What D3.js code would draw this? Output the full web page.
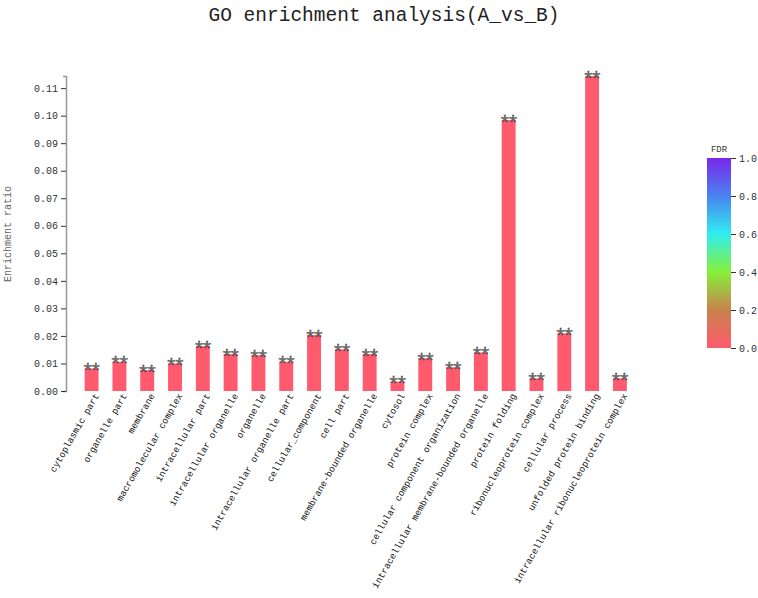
<!DOCTYPE html>
<html>
<head>
<meta charset="utf-8">
<script src="https://cdn.jsdelivr.net/npm/d3@7"></script>
<style>
  body { margin: 0; background: #fff; }
  text { font-family: "Liberation Mono", "DejaVu Sans Mono", monospace; }
</style>
</head>
<body>
<div id="chart"></div>
<script>
const categories = [
  'cytoplasmic part', 'organelle part', 'membrane', 'macromolecular complex',
  'intracellular part', 'intracellular organelle', 'organelle',
  'intracellular organelle part', 'cellular_component', 'cell part',
  'membrane-bounded organelle', 'cytosol', 'protein complex',
  'cellular component organization', 'intracellular membrane-bounded organelle',
  'protein folding', 'ribonucleoprotein complex', 'cellular process',
  'unfolded protein binding', 'intracellular ribonucleoprotein complex'
];
const ratios = [
  0.0082, 0.0106, 0.0076, 0.0100, 0.0163, 0.0134, 0.0130, 0.0106, 0.0203, 0.0151,
  0.0134, 0.0034, 0.0119, 0.0086, 0.0140, 0.0984, 0.0046, 0.0209, 0.1144, 0.0046
];
const fdr = [
  0, 0, 0, 0, 0, 0, 0, 0, 0, 0,
  0, 0, 0, 0, 0, 0, 0, 0, 0, 0
];
const stars = categories.map(() => '**');
const yTicks = [0, 0.01, 0.02, 0.03, 0.04, 0.05, 0.06, 0.07, 0.08, 0.09, 0.10, 0.11];
const legendStops = [0, 0.2, 0.4, 0.6, 0.8, 1.0];
const legendColors = ['#ff5a6e', '#c8824c', '#86f03a', '#30eef0', '#4a82f0', '#7a28ea'];

const width = 758, height = 598;
const plot = { left: 66, right: 641, top: 76, bottom: 391 };

const svg = d3.select('#chart').append('svg')
  .attr('width', width)
  .attr('height', height);

// title
svg.append('text')
  .attr('x', 384)
  .attr('y', 21)
  .attr('text-anchor', 'middle')
  .attr('font-size', 19.5)
  .attr('fill', '#222')
  .text('GO enrichment analysis(A_vs_B)');

const x = d3.scaleBand()
  .domain(categories)
  .range([plot.left + 4.75, plot.right - 0.25])
  .padding(0.5);

const y = d3.scaleLinear()
  .domain([0, d3.max(ratios)])
  .range([plot.bottom, plot.top]);

const color = d3.scaleLinear()
  .domain(legendStops)
  .range(legendColors);

// y axis
const yAxis = svg.append('g')
  .attr('transform', 'translate(' + plot.left + ',0)')
  .call(d3.axisLeft(y).tickValues(yTicks).tickFormat(d3.format('.2f')).tickSize(5).tickSizeOuter(3));
yAxis.select('.domain').attr('stroke', '#999').attr('stroke-width', 1.5);
yAxis.selectAll('.tick line').attr('stroke', '#333');
yAxis.selectAll('.tick text')
  .attr('font-size', 10)
  .attr('fill', '#333')
  .attr('font-family', '"Liberation Mono", monospace');

svg.append('text')
  .attr('transform', 'translate(11,234) rotate(-90)')
  .attr('text-anchor', 'middle')
  .attr('font-size', 10)
  .attr('fill', '#666')
  .text('Enrichment ratio');

// bars
svg.append('g').selectAll('rect')
  .data(categories)
  .join('rect')
  .attr('x', d => x(d))
  .attr('width', x.bandwidth())
  .attr('y', (d, i) => y(ratios[i]))
  .attr('height', (d, i) => y(0) - y(ratios[i]))
  .attr('fill', (d, i) => color(fdr[i]));

// significance stars (negative letter-spacing pushes ink right, so pull back 2px)
svg.append('g').selectAll('text')
  .data(categories)
  .join('text')
  .attr('x', d => x(d) + x.bandwidth() / 2 - 2)
  .attr('y', (d, i) => y(ratios[i]) + 9.5)
  .attr('text-anchor', 'middle')
  .attr('font-size', 21)
  .attr('letter-spacing', -4.5)
  .attr('fill', '#777')
  .attr('stroke', '#222')
  .attr('stroke-width', 0.3)
  .text((d, i) => stars[i]);

// category labels
svg.append('g').selectAll('text')
  .data(categories)
  .join('text')
  .attr('transform', d => 'translate(' + (x(d) + x.bandwidth() / 2 + 5) + ',' + (plot.bottom + 3) + ') rotate(-60)')
  .attr('text-anchor', 'end')
  .attr('dy', '0.35em')
  .attr('font-size', 9.3)
  .attr('fill', '#111')
  .text(d => d);

// colour legend
const legend = { x: 707, y: 158, w: 24, h: 190 };
const defs = svg.append('defs');
const grad = defs.append('linearGradient')
  .attr('id', 'fdrgrad')
  .attr('x1', 0).attr('y1', 1).attr('x2', 0).attr('y2', 0);
legendStops.forEach((s, i) => {
  grad.append('stop')
    .attr('offset', (s * 100) + '%')
    .attr('stop-color', legendColors[i]);
});

svg.append('rect')
  .attr('x', legend.x)
  .attr('y', legend.y)
  .attr('width', legend.w)
  .attr('height', legend.h)
  .attr('fill', 'url(#fdrgrad)');

const ly = d3.scaleLinear()
  .domain([0, 1])
  .range([legend.y + legend.h, legend.y]);

const lAxis = svg.append('g')
  .attr('transform', 'translate(' + (legend.x + legend.w) + ',0)')
  .call(d3.axisRight(ly).tickValues(legendStops).tickFormat(d3.format('.1f')).tickSize(5).tickSizeOuter(0));
lAxis.select('.domain').remove();
lAxis.selectAll('.tick line').attr('stroke', '#333');
lAxis.selectAll('.tick text')
  .attr('font-size', 10)
  .attr('fill', '#333')
  .attr('font-family', '"Liberation Mono", monospace');

svg.append('text')
  .attr('x', legend.x + legend.w / 2)
  .attr('y', legend.y - 6)
  .attr('text-anchor', 'middle')
  .attr('font-size', 9)
  .attr('fill', '#333')
  .text('FDR');
</script>
</body>
</html>
